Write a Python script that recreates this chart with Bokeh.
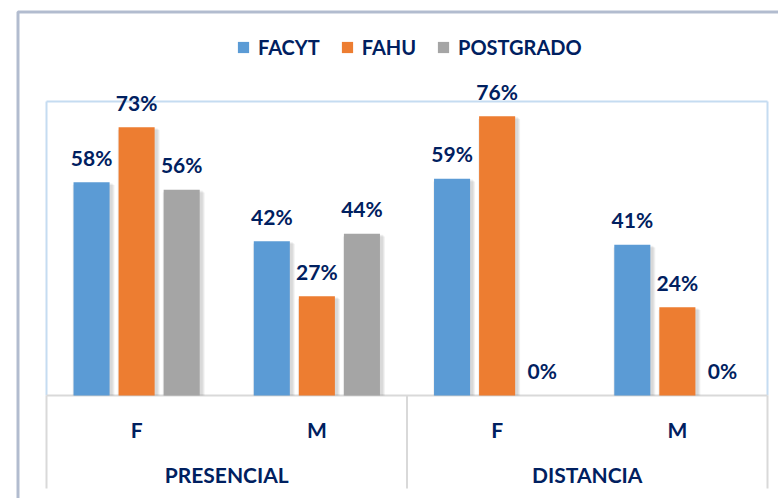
from bokeh.plotting import figure
from bokeh.models import Range1d, ColumnDataSource, Legend, LegendItem, BoxAnnotation
from bokeh.core.properties import value
from bokeh.embed import file_html
from bokeh.resources import INLINE

# ---- data ----
modes = ["PRESENCIAL", "DISTANCIA"]
sexes = ["F", "M"]
series = ["FACYT", "FAHU", "POSTGRADO"]
facyt = [58, 42, 59, 41]
fahu = [73, 27, 76, 24]
postgrado = [56, 44, 0, 0]

# ---- style ----
colors = ["#5b9bd5", "#ed7d31", "#a5a5a5"]
navy = "#002060"
font = "Lato"
light_blue = "#c5dcf1"
grey = "#d9d9d9"

W, H = 778, 498
# plot-area placement in pixels (layout)
PL, PR, PT, PB = 46, 767, 101, 395
YMAX = 80
n_cat = len(modes) * len(sexes)
xpx = (PR - PL) / n_cat
ypx = (PB - PT) / YMAX


def dx(px):
    return (px - PL) / xpx


def dy(py):
    return (PB - py) / ypx


p = figure(width=W, height=H, x_range=Range1d(dx(0), dx(W)), y_range=Range1d(dy(H), dy(0)),
           output_backend="svg", toolbar_location=None,
           min_border_left=0, min_border_top=0, min_border_right=0, min_border_bottom=0)
p.xaxis.visible = False
p.yaxis.visible = False
p.xgrid.visible = False
p.ygrid.visible = False
p.outline_line_color = None
p.background_fill_color = "white"
p.border_fill_color = "white"

# category positions (centers of the leaf categories)
cat_x = [i + 0.5 for i in range(n_cat)]
grp_x = [len(sexes) * (j + 0.5) for j in range(len(modes))]
sub_labels = [s for m in modes for s in sexes]

values = {"FACYT": facyt, "FAHU": fahu, "POSTGRADO": postgrado}
offsets = [-0.25, 0.0, 0.25]
bw = 0.2

# plot box lines
p.segment(x0=[0], y0=[YMAX], x1=[n_cat], y1=[YMAX], line_color=light_blue, line_width=2)
p.segment(x0=[0, n_cat], y0=[0, 0], x1=[0, n_cat], y1=[YMAX, YMAX],
          line_color=light_blue, line_width=2)
p.segment(x0=[0, n_cat / 2, n_cat], y0=[0, 0, 0], x1=[0, n_cat / 2, n_cat], y1=[dy(488)] * 3,
          line_color=grey, line_width=2)
p.segment(x0=[0], y0=[0], x1=[n_cat], y1=[0], line_color=grey, line_width=2)

items = []
for s, c, off in zip(series, colors, offsets):
    xs = [x + off for x in cat_x]
    vals = values[s]
    src = ColumnDataSource(dict(x=xs, top=vals, lbl=[f"{v}%" for v in vals]))
    # soft shadow
    for k in (1, 2, 3):
        p.vbar(x=[x + 2 / xpx for x in xs], top=[v - 0.3 * k / ypx * 3 if v > 0 else 0 for v in vals],
               bottom=0, width=bw + 2 * k / xpx, fill_color="black", fill_alpha=0.05,
               line_color=None)
    r = p.vbar(x="x", top="top", bottom=0, width=bw, source=src, fill_color=c, line_color=None)
    items.append(LegendItem(label=s, renderers=[r]))
    p.text(x="x", y="top", text="lbl", source=src,
           text_align="center", text_baseline="alphabetic", y_offset=-25,
           text_font=value(font), text_font_style="bold", text_font_size="21px",
           text_color=navy)

# category labels
p.text(x=cat_x, y=[0] * n_cat, text=sub_labels, y_offset=34, text_align="center",
       text_baseline="middle", text_font=value(font), text_font_style="bold",
       text_font_size="21px", text_color=navy)
p.text(x=grp_x, y=[0] * len(modes), text=modes, y_offset=79, text_align="center",
       text_baseline="middle", text_font=value(font), text_font_style="bold",
       text_font_size="21px", text_color=navy)

legend = Legend(items=items, orientation="horizontal", location=(236, 439),
                glyph_width=14, glyph_height=14, label_standoff=8, spacing=20,
                padding=0, margin=0, border_line_color=None, background_fill_alpha=0,
                label_text_font=font, label_text_font_style="bold",
                label_text_font_size="20px", label_text_color=navy)
p.add_layout(legend, "center")

frame_box = BoxAnnotation(left=dx(17.5), right=dx(W + 50), top=dy(11.5), bottom=dy(H + 50),
                          fill_alpha=0, line_color=navy, line_width=3)
p.add_layout(frame_box)

open("out.html", "w").write(file_html(p, INLINE))
